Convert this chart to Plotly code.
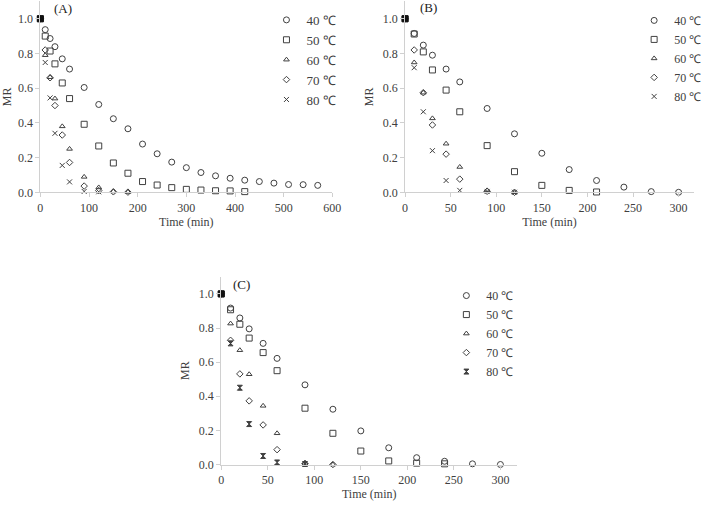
import plotly.graph_objects as go

# ---------------- data ----------------
labels = ["40 ℃", "50 ℃", "60 ℃", "70 ℃", "80 ℃"]

# Panel A
tA40 = [0, 10, 20, 30, 45, 60, 90, 120, 150, 180, 210, 240, 270, 300, 330, 360, 390, 420, 450, 480, 510, 540, 570]
mA40 = [1.0, 0.937, 0.886, 0.839, 0.769, 0.71, 0.604, 0.506, 0.424, 0.366, 0.278, 0.222, 0.174, 0.142, 0.114, 0.095, 0.081, 0.07, 0.062, 0.053, 0.045, 0.044, 0.04]
tA50 = [0, 10, 20, 30, 45, 60, 90, 120, 150, 180, 210, 240, 270, 300, 330, 360, 390, 420]
mA50 = [1.0, 0.90, 0.814, 0.74, 0.63, 0.54, 0.392, 0.267, 0.169, 0.11, 0.062, 0.042, 0.027, 0.017, 0.013, 0.009, 0.008, 0.004]
tA60 = [0, 10, 20, 30, 45, 60, 90, 120, 150, 180]
mA60 = [1.0, 0.79, 0.663, 0.54, 0.38, 0.25, 0.089, 0.028, 0.005, 0.002]
tA70 = [0, 10, 20, 30, 45, 60, 90, 120, 150, 180]
mA70 = [1.0, 0.82, 0.66, 0.50, 0.33, 0.172, 0.036, 0.01, 0.003, 0.001]
tA80 = [0, 10, 20, 30, 45, 60, 90, 120]
mA80 = [1.0, 0.748, 0.544, 0.34, 0.155, 0.06, 0.005, 0.003]

# Panel B
tB40 = [0, 10, 20, 30, 45, 60, 90, 120, 150, 180, 210, 240, 270, 300]
mB40 = [1.0, 0.915, 0.848, 0.79, 0.71, 0.636, 0.483, 0.337, 0.225, 0.131, 0.068, 0.03, 0.004, 0.0]
tB50 = [0, 10, 20, 30, 45, 60, 90, 120, 150, 180, 210]
mB50 = [1.0, 0.912, 0.809, 0.705, 0.589, 0.464, 0.269, 0.119, 0.04, 0.011, 0.002]
tB60 = [0, 10, 20, 30, 45, 60, 90, 120]
mB60 = [1.0, 0.748, 0.574, 0.426, 0.28, 0.146, 0.011, 0.0]
tB70 = [0, 10, 20, 30, 45, 60, 90, 120]
mB70 = [1.0, 0.82, 0.574, 0.388, 0.22, 0.076, 0.006, 0.0]
tB80 = [0, 10, 20, 30, 45, 60, 90, 120]
mB80 = [1.0, 0.718, 0.464, 0.24, 0.068, 0.011, 0.005, 0.0]

# Panel C
tC40 = [0, 10, 20, 30, 45, 60, 90, 120, 150, 180, 210, 240, 270, 300]
mC40 = [1.0, 0.917, 0.859, 0.795, 0.71, 0.622, 0.467, 0.324, 0.197, 0.098, 0.04, 0.019, 0.004, 0.0]
tC50 = [0, 10, 20, 30, 45, 60, 90, 120, 150, 180, 210, 240]
mC50 = [1.0, 0.907, 0.822, 0.741, 0.656, 0.55, 0.33, 0.183, 0.079, 0.021, 0.008, 0.004]
tC60 = [0, 10, 20, 30, 45, 60, 90, 120]
mC60 = [1.0, 0.826, 0.67, 0.529, 0.344, 0.183, 0.01, 0.0]
tC70 = [0, 10, 20, 30, 45, 60, 90, 120]
mC70 = [1.0, 0.728, 0.531, 0.373, 0.232, 0.087, 0.005, 0.0]
tC80 = [0, 10, 20, 30, 45, 60, 90]
mC80 = [1.0, 0.71, 0.45, 0.237, 0.05, 0.012, 0.003]

xticksA = [0, 100, 200, 300, 400, 500, 600]
xticksBC = [0, 50, 100, 150, 200, 250, 300]
yticks = [0.0, 0.2, 0.4, 0.6, 0.8, 1.0]

# ---------------- styling ----------------
W, H = 709, 508
MC = "#404040"
FONT = "Liberation Serif"
TXT = "#404040"
sym_ab = ["circle-open", "square-open", "triangle-up-open", "diamond-open", "x-thin-open"]
sym_c = ["circle-open", "square-open", "triangle-up-open", "diamond-open", "hourglass"]
sizes = [6, 6, 5, 5, 5]

panels = [
    ("A", [(tA40, mA40), (tA50, mA50), (tA60, mA60), (tA70, mA70), (tA80, mA80)], sym_ab, "legend"),
    ("B", [(tB40, mB40), (tB50, mB50), (tB60, mB60), (tB70, mB70), (tB80, mB80)], sym_ab, "legend2"),
    ("C", [(tC40, mC40), (tC50, mC50), (tC60, mC60), (tC70, mC70), (tC80, mC80)], sym_c, "legend3"),
]
axis_ids = {"A": ("x", "y"), "B": ("x2", "y2"), "C": ("x3", "y3")}

fig = go.Figure()
for name, series, syms, leg in panels:
    xa, ya = axis_ids[name]
    for i, (t, m) in enumerate(series):
        fig.add_trace(go.Scatter(
            x=t, y=m, mode="markers", name=labels[i], xaxis=xa, yaxis=ya, legend=leg,
            cliponaxis=False,
            marker=dict(symbol=syms[i], size=sizes[i], color=MC,
                        line=dict(color=MC, width=1)),
        ))
    # initial point drawn filled (overlap of all series at t=0)
    t0, m0 = series[1]
    fig.add_trace(go.Scatter(
        x=[t0[0]], y=[m0[0]], mode="markers", showlegend=False, xaxis=xa, yaxis=ya,
        cliponaxis=False,
        marker=dict(symbol="square", size=6, color="#111111", line=dict(color="#111111", width=1)),
    ))

def px_x(p):
    return p / W

def px_y(p):
    return (H - p) / H

axcommon = dict(showline=True, linecolor="#d0d0d0", linewidth=1, ticks="outside",
                ticklen=4, tickcolor="#d0d0d0", showgrid=False, zeroline=False,
                tickfont=dict(family=FONT, size=12, color=TXT))
tfont = dict(family=FONT, size=12, color=TXT)

ytop_ab = 19 - 176 * 0.1
fig.update_layout(
    width=W, height=H, margin=dict(l=0, r=0, t=0, b=0),
    paper_bgcolor="white", plot_bgcolor="white",
    font=dict(family=FONT, size=12, color=TXT),
    xaxis=dict(axcommon, domain=[px_x(38), px_x(335)], range=[0, 600], tickvals=xticksA,
               anchor="y", title=dict(text="Time (min)", standoff=0, font=tfont)),
    yaxis=dict(axcommon, domain=[px_y(195), px_y(ytop_ab)], range=[0, 1.1], tickvals=yticks,
               tickformat=".1f", anchor="x", title=dict(text="MR", standoff=6, font=tfont)),
    xaxis2=dict(axcommon, domain=[px_x(409), px_x(703)], range=[0, 317], tickvals=xticksBC,
                anchor="y2", title=dict(text="Time (min)", standoff=0, font=tfont)),
    yaxis2=dict(axcommon, domain=[px_y(195), px_y(ytop_ab)], range=[0, 1.1], tickvals=yticks,
                tickformat=".1f", anchor="x2", title=dict(text="MR", standoff=6, font=tfont)),
    xaxis3=dict(axcommon, domain=[px_x(222), px_x(523)], range=[0, 318], tickvals=xticksBC,
                anchor="y3", title=dict(text="Time (min)", standoff=2, font=tfont)),
    yaxis3=dict(axcommon, domain=[px_y(471), px_y(471 - 173 * 1.1)], range=[0, 1.1], tickvals=yticks,
                tickformat=".1f", anchor="x3", title=dict(text="MR", standoff=6, font=tfont)),
)

legcommon = dict(bgcolor="rgba(0,0,0,0)", xanchor="left", yanchor="top",
                 itemwidth=30, tracegroupgap=0)
fig.update_layout(
    legend=dict(legcommon, x=px_x(268), y=px_y(5), font=dict(family=FONT, size=13, color=TXT)),
    legend2=dict(legcommon, x=px_x(642), y=px_y(6), font=dict(family=FONT, size=12, color=TXT)),
    legend3=dict(legcommon, x=px_x(451), y=px_y(285), font=dict(family=FONT, size=12, color=TXT)),
)

for txt, x, y in [("(A)", 50, 9), ("(B)", 422, 8), ("(C)", 232, 288)]:
    fig.add_annotation(text=txt, x=px_x(x), y=px_y(y), xref="paper", yref="paper",
                       xanchor="left", yanchor="middle", showarrow=False,
                       font=dict(family=FONT, size=13, color="#222222"))

fig.write_html("out.html")
